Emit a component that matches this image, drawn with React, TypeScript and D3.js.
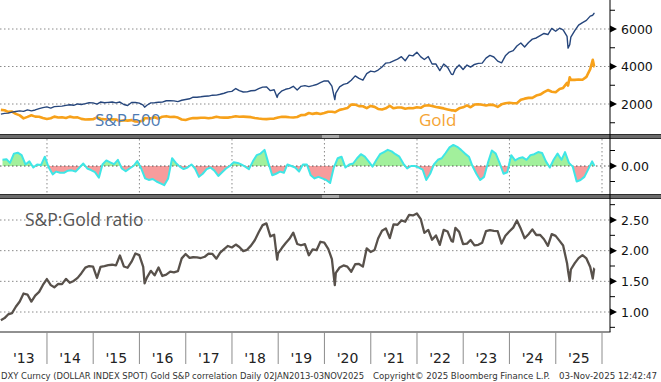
import React from 'react';
import * as d3 from 'd3';

// ---------- DATA ----------
// Month-end closes, Jan 2013 .. Oct 2025
const spxMonthly = [
  1498, 1515, 1569, 1598, 1631, 1606, 1686, 1633, 1682, 1757, 1806, 1848,
  1783, 1859, 1872, 1884, 1924, 1960, 1931, 2003, 1972, 2018, 2068, 2059,
  1995, 2105, 2068, 2086, 2107, 2063, 2104, 1972, 1920, 2079, 2080, 2044,
  1940, 1932, 2060, 2065, 2097, 2099, 2174, 2171, 2168, 2126, 2199, 2239,
  2279, 2364, 2363, 2384, 2412, 2423, 2470, 2472, 2519, 2575, 2648, 2674,
  2824, 2714, 2641, 2648, 2705, 2718, 2816, 2902, 2914, 2712, 2760, 2507,
  2704, 2784, 2834, 2946, 2752, 2942, 2980, 2926, 2977, 3038, 3141, 3231,
  3226, 2954, 2585, 2912, 3044, 3100, 3271, 3500, 3363, 3270, 3622, 3756,
  3714, 3811, 3973, 4181, 4204, 4298, 4395, 4523, 4308, 4605, 4567, 4766,
  4516, 4374, 4530, 4132, 4132, 3785, 4130, 3955, 3586, 3872, 4080, 3840,
  4077, 3970, 4109, 4169, 4180, 4450, 4589, 4508, 4288, 4194, 4568, 4770,
  4846, 5096, 5254, 5036, 5278, 5460, 5522, 5648, 5762, 5705, 6032, 5882,
  6041, 5955, 5612, 5569, 5912, 6205, 6339, 6460, 6688, 6840,
];
const goldMonthly = [
  1664, 1578, 1597, 1472, 1393, 1234, 1312, 1396, 1327, 1323, 1253, 1202,
  1240, 1326, 1284, 1296, 1250, 1327, 1282, 1287, 1208, 1171, 1182, 1184,
  1283, 1213, 1183, 1182, 1190, 1172, 1095, 1132, 1115, 1142, 1065, 1061,
  1118, 1238, 1233, 1293, 1215, 1322, 1351, 1309, 1316, 1277, 1173, 1151,
  1211, 1249, 1249, 1268, 1269, 1242, 1269, 1322, 1280, 1271, 1275, 1303,
  1345, 1318, 1325, 1315, 1299, 1253, 1224, 1201, 1192, 1215, 1222, 1282,
  1321, 1313, 1292, 1284, 1305, 1409, 1414, 1520, 1472, 1513, 1464, 1517,
  1589, 1585, 1577, 1687, 1730, 1781, 1975, 1968, 1886, 1879, 1777, 1898,
  1847, 1734, 1708, 1769, 1907, 1770, 1814, 1814, 1743, 1783, 1774, 1829,
  1797, 1909, 1937, 1897, 1838, 1807, 1766, 1711, 1661, 1633, 1769, 1824,
  1928, 1827, 1969, 1990, 1962, 1919, 1965, 1940, 1849, 1983, 2036, 2063,
  2040, 2044, 2230, 2286, 2327, 2326, 2448, 2503, 2635, 2744, 2657, 2625,
  2798, 2858, 3124, 3289, 3289, 3303, 3290, 3448, 3858, 4003,
];
const startDate = '2013-01-02';
const startSpx = 1462;
const startGold = 1688;
const endDate = '2025-11-03';
const endSpx = 6852;
const endGold = 4000;
// notable intra-month points
const eventDates = ['2016-02-11', '2018-12-24', '2020-03-23', '2022-10-12', '2025-04-08', '2025-04-21', '2025-10-20'];
const eventSpx = [1829, 2351, 2237, 3577, 4982, 5158, 6735];
const eventGold = [1247, 1268, 1555, 1666, 2983, 3425, 4356];

// Rolling correlation, mid-month Jan 2013 .. Oct 2025, last value at end date
const corrValues = [
  0.2, 0.22, 0.1, 0.4, 0.43, 0.35, 0.05, 0.15, -0.05, 0.05, 0.03, 0.3,
  -0.05, -0.27, -0.18, -0.22, -0.22, -0.15, -0.14, -0.18, -0.05, 0.08, -0.08, -0.13,
  -0.2, -0.38, 0.05, 0.18, 0.12, 0.06, 0.2, -0.08, -0.17, -0.08, 0.0, 0.16,
  -0.08, -0.4, -0.45, -0.42, -0.5, -0.56, -0.62, -0.4, 0.25, 0.1, -0.02, -0.1,
  -0.05, 0.05, -0.08, -0.35, -0.25, -0.1, -0.05, -0.15, -0.32, -0.2, -0.08, 0.0,
  0.12, 0.1, 0.05, -0.02, -0.1, 0.15, 0.35, 0.4, 0.52, 0.1, -0.3, -0.25,
  -0.18, -0.22, 0.05, 0.0, -0.05, -0.18, 0.05, 0.05, -0.3, -0.4, -0.35, -0.4,
  -0.45, -0.55, -0.05, 0.25, 0.3, -0.05, 0.05, 0.08, 0.25, 0.38, 0.3, 0.15,
  -0.02, 0.2, 0.38, 0.45, 0.52, 0.47, 0.38, 0.3, 0.08, -0.08, 0.0, 0.0,
  -0.05, -0.12, -0.45, -0.25, 0.05, 0.2, 0.25, 0.42, 0.6, 0.68, 0.62, 0.52,
  0.4, 0.3, 0.0, -0.25, -0.45, -0.35, 0.1, 0.5, 0.4, 0.1, -0.25, -0.2,
  0.35, 0.18, 0.25, 0.28, 0.2, 0.35, 0.38, 0.45, 0.42, 0.15, -0.05, 0.2,
  0.4, 0.2, 0.45, 0.1, -0.02, -0.5, -0.45, -0.35, -0.1, 0.15, 0.0,
];

const yearLabels = ["'13", "'14", "'15", "'16", "'17", "'18", "'19", "'20", "'21", "'22", "'23", "'24", "'25"];
const priceTicks = [2000, 4000, 6000];
const priceMinor = [1000, 3000, 5000, 7000];
const corrTicks = [0];
const corrMinor = [-0.5, 0.5];
const ratioTicks = [1.0, 1.5, 2.0, 2.5];
const ratioMinor = [0.75, 1.25, 1.75, 2.25, 2.75];
const footerLeft = 'DXY Curncy (DOLLAR INDEX SPOT) Gold S&P correlation Daily 02JAN2013-03NOV2025';
const footerMid = 'Copyright\u00A9 2025 Bloomberg Finance L.P.';
const footerRight = '03-Nov-2025 12:42:47';

// ---------- BUILD SERIES ----------
type Pt = { date: Date; spx: number; gold: number };
const parse = d3.timeParse('%Y-%m-%d');
const series: Pt[] = [];
series.push({ date: parse(startDate)!, spx: startSpx, gold: startGold });
spxMonthly.forEach((v, i) => {
  series.push({ date: new Date(2013, i + 1, 0), spx: v, gold: goldMonthly[i] });
});
eventDates.forEach((d, i) => series.push({ date: parse(d)!, spx: eventSpx[i], gold: eventGold[i] }));
series.push({ date: parse(endDate)!, spx: endSpx, gold: endGold });
series.sort((a, b) => +a.date - +b.date);

const corrSeries = corrValues.map((v, i) => ({
  date: i < corrValues.length - 1 ? new Date(2013, i, 15) : parse(endDate)!,
  v,
}));

export default function App() {
  const W = 661;
  const H = 382;
  const axisX = 610;

  const x = d3.scaleTime().domain([new Date(2013, 0, 1), new Date(2026, 0, 1)]).range([0.75, 602]);
  const yP = d3.scaleLinear().domain([0, 8000]).range([141.5, -8.5]);
  const yC = d3.scaleLinear().domain([-1, 1]).range([197, 135]);
  const yR = d3.scaleLinear().domain([1, 2.5]).range([312, 220]);

  const spxLine = d3.line<Pt>().x((d) => x(d.date)).y((d) => yP(d.spx))(series)!;
  const goldLine = d3.line<Pt>().x((d) => x(d.date)).y((d) => yP(d.gold))(series)!;
  const ratioLine = d3.line<Pt>().x((d) => x(d.date)).y((d) => yR(d.spx / d.gold))(series)!;
  const corrArea = d3
    .area<{ date: Date; v: number }>()
    .x((d) => x(d.date))
    .y0(yC(0))
    .y1((d) => yC(d.v))(corrSeries)!;
  const corrLine = d3
    .line<{ date: Date; v: number }>()
    .x((d) => x(d.date))
    .y((d) => yC(d.v))(corrSeries)!;

  const yearBounds = d3.range(2013, 2027).map((y) => new Date(y, 0, 1));
  const evenYears = d3.range(2014, 2027, 2).map((y) => new Date(y, 0, 1));

  const dot = { stroke: '#8a8a8a', strokeWidth: 1, strokeDasharray: '1.5,2.5' };

  const arrow = (y: number, key: string) => (
    <path key={key} d={`M${axisX},${y - 3.5}L${axisX + 7},${y}L${axisX},${y + 3.5}Z`} fill="#000" />
  );
  const minor = (y: number, key: string) => (
    <line key={key} x1={axisX} x2={axisX + 5} y1={y} y2={y} stroke="#000" strokeWidth={1} />
  );
  const label = (y: number, t: string, key: string) => (
    <text key={key} x={621} y={y + 4.5} fontSize={12.5} fill="#111">
      {t}
    </text>
  );

  const splitter = (y: number, key: string) => (
    <g key={key}>
      <rect x={0} y={y} width={W} height={5} fill="#6b6b6b" />
      <line x1={0} x2={W} y1={y + 0.5} y2={y + 0.5} stroke="#2e2e2e" strokeWidth={1} />
      <line x1={0} x2={W} y1={y + 4.5} y2={y + 4.5} stroke="#2e2e2e" strokeWidth={1} />
      <rect x={322} y={y + 1} width={17} height={3} fill="#a8a8a8" />
    </g>
  );

  return (
    <svg
      width={W}
      height={H}
      style={{ position: 'absolute', left: 0, top: 0, background: '#fff' }}
      fontFamily="'DejaVu Sans', sans-serif"
    >
      <defs>
        <clipPath id="cTop">
          <rect x={0} y={0} width={axisX} height={134} />
        </clipPath>
        <clipPath id="cMid">
          <rect x={0} y={139} width={axisX} height={54} />
        </clipPath>
        <clipPath id="cBot">
          <rect x={0} y={199} width={axisX} height={133} />
        </clipPath>
        <clipPath id="cPos">
          <rect x={0} y={135} width={axisX} height={yC(0) - 135} />
        </clipPath>
        <clipPath id="cNeg">
          <rect x={0} y={yC(0)} width={axisX} height={197 - yC(0)} />
        </clipPath>
      </defs>
      <rect width={W} height={H} fill="#fff" />

      {/* ---------- TOP PANEL ---------- */}
      <g clipPath="url(#cTop)">
        {priceTicks.map((t) => (
          <line key={t} x1={0} x2={axisX} y1={yP(t)} y2={yP(t)} {...dot} />
        ))}
        <path d={goldLine} fill="none" stroke="#f7a11a" strokeWidth={2.6} strokeLinejoin="round" />
        <path d={spxLine} fill="none" stroke="#26467c" strokeWidth={1.4} strokeLinejoin="round" />
        <text x={95} y={126} fontFamily="'Open Sans', sans-serif" fontSize={17} fill="#4d7ab3">
          S&amp;P 500
        </text>
        <text x={419} y={126} fontFamily="'Open Sans', sans-serif" fontSize={17} fill="#f5a433">
          Gold
        </text>
      </g>

      {/* ---------- MIDDLE PANEL ---------- */}
      <g clipPath="url(#cMid)">
        {evenYears.map((d, i) => (
          <line key={i} x1={x(d)} x2={x(d)} y1={139} y2={193} {...dot} />
        ))}
        <path d={corrArea} fill="#a2f09c" clipPath="url(#cPos)" />
        <path d={corrArea} fill="#f79c9c" clipPath="url(#cNeg)" />
        <line x1={0} x2={axisX} y1={yC(0)} y2={yC(0)} stroke="#555" strokeWidth={1} strokeDasharray="1.5,2.5" />
        <path d={corrLine} fill="none" stroke="#3ee6e6" strokeWidth={2} strokeLinejoin="round" />
      </g>

      {/* ---------- BOTTOM PANEL ---------- */}
      <g clipPath="url(#cBot)">
        {ratioTicks.map((t) => (
          <line key={t} x1={0} x2={axisX} y1={yR(t)} y2={yR(t)} {...dot} />
        ))}
        <path d={ratioLine} fill="none" stroke="#58514b" strokeWidth={2.3} strokeLinejoin="round" />
        <text x={25} y={226} fontFamily="'Open Sans', sans-serif" fontSize={17.5} fill="#555">
          S&amp;P:Gold ratio
        </text>
      </g>

      {splitter(134, 's1')}
      {splitter(194, 's2')}

      {/* ---------- RIGHT AXIS ---------- */}
      <line x1={axisX} x2={axisX} y1={0} y2={332} stroke="#000" strokeWidth={1} />
      {priceTicks.map((t) => arrow(yP(t), 'pa' + t))}
      {priceMinor.map((t) => minor(yP(t), 'pm' + t))}
      {priceTicks.map((t) => label(yP(t), String(t), 'pl' + t))}
      {corrTicks.map((t) => arrow(yC(t), 'ca' + t))}
      {corrMinor.map((t) => minor(yC(t), 'cm' + t))}
      {corrTicks.map((t) => label(yC(t), d3.format('.2f')(t), 'cl' + t))}
      {ratioTicks.map((t) => arrow(yR(t), 'ra' + t))}
      {ratioMinor.map((t) => minor(yR(t), 'rm' + t))}
      {ratioTicks.map((t) => label(yR(t), d3.format('.2f')(t), 'rl' + t))}

      {/* ---------- BOTTOM AXIS ---------- */}
      <line x1={0} x2={axisX + 0.5} y1={332} y2={332} stroke="#222" strokeWidth={1} />
      {yearBounds.slice(1).map((d, i) => (
        <line key={i} x1={x(d)} x2={x(d)} y1={332} y2={364} stroke="#8c8c8c" strokeWidth={1} />
      ))}
      {yearLabels.map((t, i) => (
        <text
          key={t}
          x={(x(yearBounds[i]) + x(yearBounds[i + 1])) / 2}
          y={363}
          textAnchor="middle"
          fontSize={14}
          fill="#222"
        >
          {t}
        </text>
      ))}

      {/* ---------- FOOTER ---------- */}
      <g fontSize={8.8} fill="#333">
        <text x={1} y={379} textLength={363} lengthAdjust="spacingAndGlyphs">
          {footerLeft}
        </text>
        <text x={373} y={379} textLength={177} lengthAdjust="spacingAndGlyphs">
          {footerMid}
        </text>
        <text x={559} y={379} textLength={98} lengthAdjust="spacingAndGlyphs">
          {footerRight}
        </text>
      </g>
    </svg>
  );
}
